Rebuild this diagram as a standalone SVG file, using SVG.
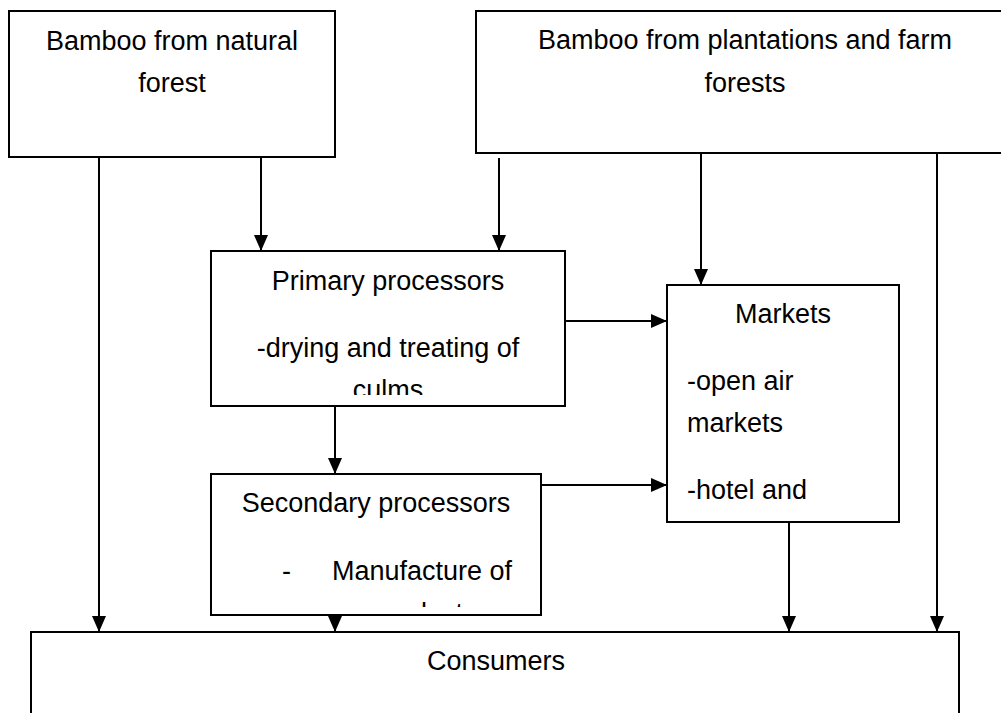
<svg xmlns="http://www.w3.org/2000/svg" width="1001" height="713" viewBox="0 0 1001 713">
<style>
.box{fill:#fff;stroke:#000;stroke-width:2}
.t{font-family:"Liberation Sans",Arial,sans-serif;font-size:27px;fill:#000}
.c{text-anchor:middle}
.ln{stroke:#000;stroke-width:2;fill:none}
.a{marker-end:url(#ah)}
</style>
<defs>
<marker id="ah" viewBox="0 0 16 14" refX="16" refY="7" markerWidth="16" markerHeight="14" markerUnits="userSpaceOnUse" orient="auto">
<path d="M0,0 L16,7 L0,14 Z" fill="#000"/>
</marker>
<clipPath id="cpPrim"><rect x="211" y="251" width="354" height="144"/></clipPath>
<clipPath id="cpSec"><rect x="211" y="474" width="330" height="133"/></clipPath>
</defs>
<rect width="1001" height="713" fill="#fff"/>
<g id="connectors">
<line class="ln a" x1="99" y1="157" x2="99" y2="632"/>
<line class="ln a" x1="261" y1="157" x2="261" y2="251"/>
<line class="ln a" x1="499" y1="158" x2="499" y2="251"/>
<line class="ln a" x1="701" y1="153" x2="701" y2="285"/>
<line class="ln a" x1="937" y1="153" x2="937" y2="632"/>
<line class="ln a" x1="565" y1="321" x2="667" y2="321"/>
<line class="ln a" x1="335" y1="406" x2="335" y2="474"/>
<line class="ln a" x1="541" y1="485" x2="667" y2="485"/>
<line class="ln a" x1="335" y1="615" x2="335" y2="632"/>
<line class="ln a" x1="789" y1="522" x2="789" y2="632"/>
</g>
<g id="natural-forest">
<rect class="box" x="9" y="11" width="326" height="146"/>
<text class="t c" x="172" y="50">Bamboo from natural</text>
<text class="t c" x="172" y="92">forest</text>
</g>
<g id="plantations">
<rect class="box" x="476" y="11" width="540" height="142"/>
<text class="t c" x="745" y="49">Bamboo from plantations and farm</text>
<text class="t c" x="745" y="92">forests</text>
</g>
<g id="primary">
<rect class="box" x="211" y="251" width="354" height="155"/>
<text class="t c" x="388" y="290">Primary processors</text>
<text class="t c" x="388" y="357">-drying and treating of</text>
<text class="t c" x="388" y="399" clip-path="url(#cpPrim)">culms</text>
</g>
<g id="markets">
<rect class="box" x="667" y="285" width="232" height="237"/>
<text class="t c" x="783" y="323">Markets</text>
<text class="t" x="687" y="390">-open air</text>
<text class="t" x="687" y="432">markets</text>
<text class="t" x="687" y="499">-hotel and</text>
</g>
<g id="secondary">
<rect class="box" x="211" y="474" width="330" height="141"/>
<text class="t c" x="376" y="512">Secondary processors</text>
<text class="t" x="282" y="580">-</text>
<text class="t" x="332" y="580">Manufacture of</text>
<text class="t" x="373" y="622" clip-path="url(#cpSec)">products</text>
</g>
<g id="consumers">
<rect class="box" x="31" y="632" width="928" height="200"/>
<text class="t c" x="496" y="670">Consumers</text>
</g>
</svg>
